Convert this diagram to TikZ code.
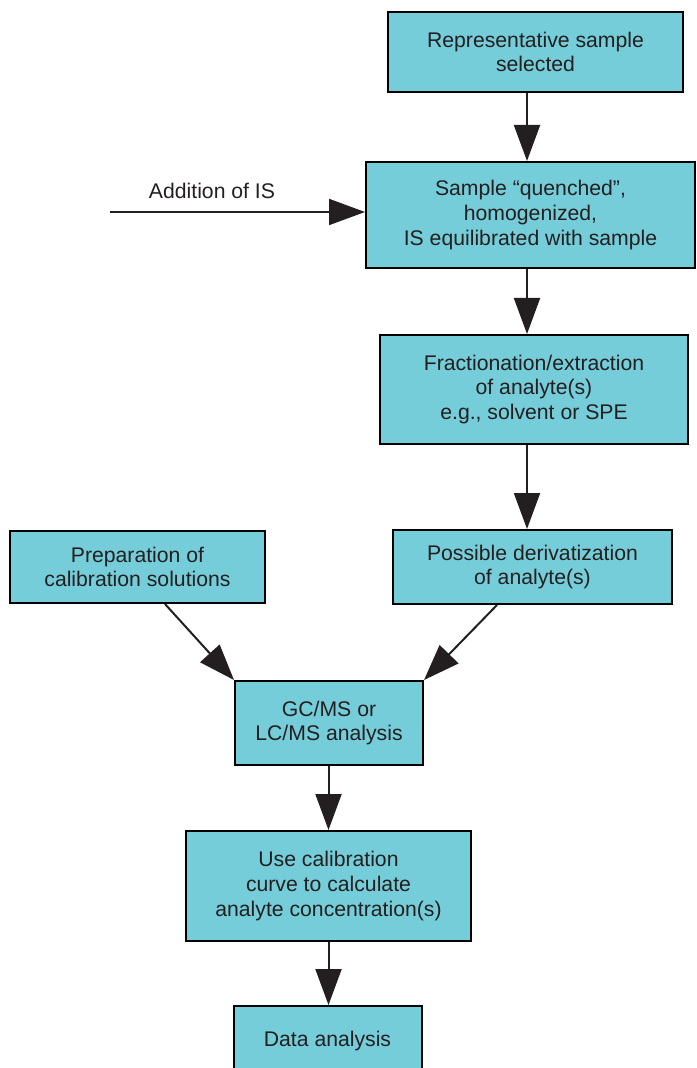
\documentclass[tikz,border=0pt]{standalone}
\usepackage{fontspec}
\setsansfont{Liberation Sans}
\usepackage{xcolor}
\usepackage{tikz}
\usetikzlibrary{arrows.meta,positioning,calc}
\definecolor{boxC}{HTML}{74CDD8}
\definecolor{inkC}{HTML}{231F20}

\begin{document}
\begin{tikzpicture}[x=0.5pt, y=-0.5pt, font=\sffamily\fontsize{10.6}{12.4}\selectfont,
  box/.style={draw=black, line width=1pt, fill=boxC, text=inkC, align=center, inner sep=0pt},
  arr/.style={-{Triangle[length=18pt,width=13pt]}, line width=1pt, draw=inkC},
  lab/.style={text=inkC, inner sep=1pt},
  ]
\useasboundingbox (0,0) rectangle (696,1068);
% ---- the sample line
\node[box, minimum width=147.5pt, minimum height=40pt] (rep) at (535.5,52) {Representative sample\\selected};
\node[box, minimum width=164.5pt, minimum height=53pt] (quench) at (530.5,215) {Sample ``quenched'',\\homogenized,\\IS equilibrated with sample};
\node[box, minimum width=154pt, minimum height=54.5pt] (frac) at (534,389.5) {Fractionation/extraction\\of analyte(s)\\e.g., solvent or SPE};
\node[box, minimum width=139.5pt, minimum height=37pt] (deriv) at (532.5,567) {Possible derivatization\\of analyte(s)};
\coordinate (spine) at (527,0);
\draw[arr] (rep.south -| spine) -- (quench.north -| spine);
\draw[arr] (quench.south -| spine) -- (frac.north -| spine);
\draw[arr] (frac.south -| spine) -- (deriv.north -| spine);
% ---- the internal standard
\coordinate (isin) at (110,212);
\draw[arr] (isin) -- node[lab, above=5pt, pos=0.4] {Addition of IS} (isin -| quench.west);
% ---- calibration and measurement
\node[box, minimum width=127.5pt, minimum height=36pt] (prep) at (137.5,567) {Preparation of\\calibration solutions};
\node[box, minimum width=94pt, minimum height=42pt] (gcms) at (329,723) {GC/MS or\\LC/MS analysis};
\node[box, minimum width=142.5pt, minimum height=55pt] (calib) at (328.5,886) {Use calibration\\curve to calculate\\analyte concentration(s)};
\node[box, minimum width=94pt, minimum height=35pt] (data) at (327.5,1041) {Data analysis};
\draw[arr] ($(prep.south)+(27.5,0)$) -- (gcms.north west);
\draw[arr] ($(deriv.south)+(-35.5,0)$) -- (gcms.north east);
\draw[arr] (gcms.south -| calib) -- (calib.north);
\draw[arr] (calib.south) -- (data.north -| calib);
\end{tikzpicture}
\end{document}
